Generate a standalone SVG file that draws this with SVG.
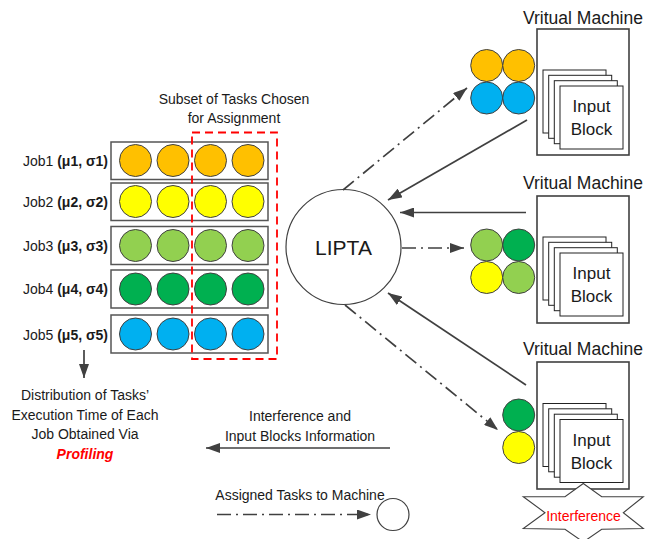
<svg xmlns="http://www.w3.org/2000/svg" width="647" height="539" viewBox="0 0 647 539">
  <style>
    text { font-family: "Liberation Sans", Arial, sans-serif; fill: #1a1a1a; }
    .lbl { font-size: 14px; }
    .vm-title { font-size: 17.5px; text-anchor: middle; }
    .blk-text { font-size: 17px; text-anchor: middle; }
    .row { fill: #ffffff; stroke: #555555; stroke-width: 1.5; }
    .task { stroke: #404040; stroke-width: 1; }
    .orange { fill: #FFC000; }
    .yellow { fill: #FFFF00; }
    .lgreen { fill: #92D050; }
    .dgreen { fill: #00B050; }
    .blue { fill: #00B0F0; }
    .vm { fill: #ffffff; stroke: #404040; stroke-width: 1.6; }
    .blk { fill: #ffffff; stroke: #222222; stroke-width: 1; }
    .solid { fill: none; stroke: #404040; stroke-width: 1.7; marker-end: url(#head); }
    .dashdot { fill: none; stroke: #404040; stroke-width: 1.7; stroke-dasharray: 14 5 2 5; marker-end: url(#head); }
  </style>
  <defs>
    <marker id="head" markerUnits="userSpaceOnUse" markerWidth="14" markerHeight="10" viewBox="0 0 14 10" refX="14" refY="5" orient="auto">
      <path d="M0,0 L14,5 L0,10 Z" fill="#404040"/>
    </marker>
    <g id="stack">
      <rect class="blk" x="0" y="0" width="63" height="63"/>
      <rect class="blk" x="5.7" y="5.3" width="63" height="63"/>
      <rect class="blk" x="11.3" y="10.7" width="63" height="63"/>
      <rect class="blk" x="17" y="16" width="63" height="63"/>
      <text class="blk-text" x="48.5" y="42">Input</text>
      <text class="blk-text" x="48.5" y="65">Block</text>
    </g>
  </defs>

  <rect x="0" y="0" width="647" height="539" fill="#ffffff"/>

  <!-- job queues -->
  <g id="job1">
    <text class="lbl" x="108" y="166" text-anchor="end">Job1 <tspan font-weight="bold">(μ1, σ1)</tspan></text>
    <rect class="row" x="111" y="142" width="157" height="37.5"/>
    <circle class="task orange" cx="135.5" cy="160.5" r="16"/>
    <circle class="task orange" cx="173" cy="160.5" r="16"/>
    <circle class="task orange" cx="210.5" cy="160.5" r="16"/>
    <circle class="task orange" cx="248" cy="160.5" r="16"/>
  </g>
  <g id="job2">
    <text class="lbl" x="108" y="207" text-anchor="end">Job2 <tspan font-weight="bold">(μ2, σ2)</tspan></text>
    <rect class="row" x="111" y="183" width="157" height="37.5"/>
    <circle class="task yellow" cx="135.5" cy="201.5" r="16"/>
    <circle class="task yellow" cx="173" cy="201.5" r="16"/>
    <circle class="task yellow" cx="210.5" cy="201.5" r="16"/>
    <circle class="task yellow" cx="248" cy="201.5" r="16"/>
  </g>
  <g id="job3">
    <text class="lbl" x="108" y="250.5" text-anchor="end">Job3 <tspan font-weight="bold">(μ3, σ3)</tspan></text>
    <rect class="row" x="111" y="226.5" width="157" height="38"/>
    <circle class="task lgreen" cx="135.5" cy="245.5" r="16"/>
    <circle class="task lgreen" cx="173" cy="245.5" r="16"/>
    <circle class="task lgreen" cx="210.5" cy="245.5" r="16"/>
    <circle class="task lgreen" cx="248" cy="245.5" r="16"/>
  </g>
  <g id="job4">
    <text class="lbl" x="108" y="294" text-anchor="end">Job4 <tspan font-weight="bold">(μ4, σ4)</tspan></text>
    <rect class="row" x="111" y="270" width="157" height="38"/>
    <circle class="task dgreen" cx="135.5" cy="289" r="16"/>
    <circle class="task dgreen" cx="173" cy="289" r="16"/>
    <circle class="task dgreen" cx="210.5" cy="289" r="16"/>
    <circle class="task dgreen" cx="248" cy="289" r="16"/>
  </g>
  <g id="job5">
    <text class="lbl" x="108" y="339.5" text-anchor="end">Job5 <tspan font-weight="bold">(μ5, σ5)</tspan></text>
    <rect class="row" x="111" y="315" width="157" height="38"/>
    <circle class="task blue" cx="135.5" cy="334" r="16"/>
    <circle class="task blue" cx="173" cy="334" r="16"/>
    <circle class="task blue" cx="210.5" cy="334" r="16"/>
    <circle class="task blue" cx="248" cy="334" r="16"/>
  </g>

  <!-- chosen subset -->
  <g id="subset">
    <text class="lbl" x="234" y="104" text-anchor="middle">Subset of Tasks Chosen</text>
    <text class="lbl" x="234" y="123" text-anchor="middle">for Assignment</text>
    <rect x="192" y="132.5" width="85" height="226.5" fill="none" stroke="#FF0000" stroke-width="1.8" stroke-dasharray="8 5"/>
  </g>

  <!-- scheduler -->
  <g id="lipta">
    <circle cx="343.5" cy="247" r="57.5" fill="#ffffff" stroke="#404040" stroke-width="1.2"/>
    <text x="343.5" y="255" font-size="21" text-anchor="middle">LIPTA</text>
  </g>

  <!-- machines -->
  <g id="vm1">
    <text class="vm-title" x="583" y="24">Vritual Machine</text>
    <rect class="vm" x="537" y="29" width="92" height="126"/>
    <use href="#stack" x="543" y="70"/>
    <circle class="task orange" cx="486.7" cy="65.5" r="16"/>
    <circle class="task orange" cx="518.7" cy="65.5" r="16"/>
    <circle class="task blue" cx="486.7" cy="98" r="16"/>
    <circle class="task blue" cx="518.7" cy="98" r="16"/>
  </g>
  <g id="vm2">
    <text class="vm-title" x="583" y="189">Vritual Machine</text>
    <rect class="vm" x="537" y="196" width="92" height="127"/>
    <use href="#stack" x="543" y="237"/>
    <circle class="task lgreen" cx="486.7" cy="245" r="16"/>
    <circle class="task dgreen" cx="518.7" cy="245" r="16"/>
    <circle class="task yellow" cx="486.7" cy="277.5" r="16"/>
    <circle class="task lgreen" cx="518.7" cy="277.5" r="16"/>
  </g>
  <g id="vm3">
    <text class="vm-title" x="583" y="355">Vritual Machine</text>
    <rect class="vm" x="537" y="362" width="92" height="127"/>
    <use href="#stack" x="543" y="403.5"/>
    <circle class="task dgreen" cx="518.7" cy="415" r="16"/>
    <circle class="task yellow" cx="518.7" cy="447.5" r="16"/>
  </g>
  <g id="interference">
    <path d="M583.3,483.5 L601.7,496.7 L643.3,496.7 L623.3,512.7 L643.3,528.5 L601.7,529.3 L583.3,542 L565,529.3 L523.3,528.5 L545,512.7 L523.3,496.7 L565,496.7 Z" fill="#ffffff" stroke="#404040" stroke-width="1.1"/>
    <text x="583.5" y="521" font-size="14" text-anchor="middle" style="fill:#FF0000">Interference</text>
  </g>

  <!-- profiling note -->
  <g id="profiling">
    <text class="lbl" x="85" y="400" text-anchor="middle">Distribution of Tasks’</text>
    <text class="lbl" x="85" y="420" text-anchor="middle">Execution Time of Each</text>
    <text class="lbl" x="85" y="439" text-anchor="middle">Job Obtained Via</text>
    <text class="lbl" x="85" y="459" text-anchor="middle" font-weight="bold" font-style="italic" style="fill:#FF0000">Profiling</text>
  </g>

  <!-- legend -->
  <g id="legend">
    <text class="lbl" x="300" y="421" text-anchor="middle">Interference and</text>
    <text class="lbl" x="300" y="441" text-anchor="middle">Input Blocks Information</text>
    <text class="lbl" x="300" y="500" text-anchor="middle">Assigned Tasks to Machine</text>
    <circle cx="393" cy="514.5" r="16" fill="#ffffff" stroke="#404040" stroke-width="1.2"/>
  </g>

  <!-- connectors -->
  <g id="connectors">
    <line class="dashdot" x1="343" y1="190" x2="467" y2="88"/>
    <line class="solid" x1="527" y1="120" x2="388" y2="200"/>
    <line class="solid" x1="526" y1="212.5" x2="400" y2="212.5"/>
    <line class="dashdot" x1="402" y1="248" x2="464" y2="248"/>
    <line class="solid" x1="526" y1="385" x2="388" y2="293"/>
    <line class="dashdot" x1="345" y1="305" x2="498" y2="430"/>
    <line class="solid" x1="84" y1="350" x2="84" y2="378"/>
    <line class="solid" x1="390" y1="448" x2="206" y2="448"/>
    <line class="dashdot" x1="217" y1="514.5" x2="371" y2="514.5"/>
  </g>
</svg>
